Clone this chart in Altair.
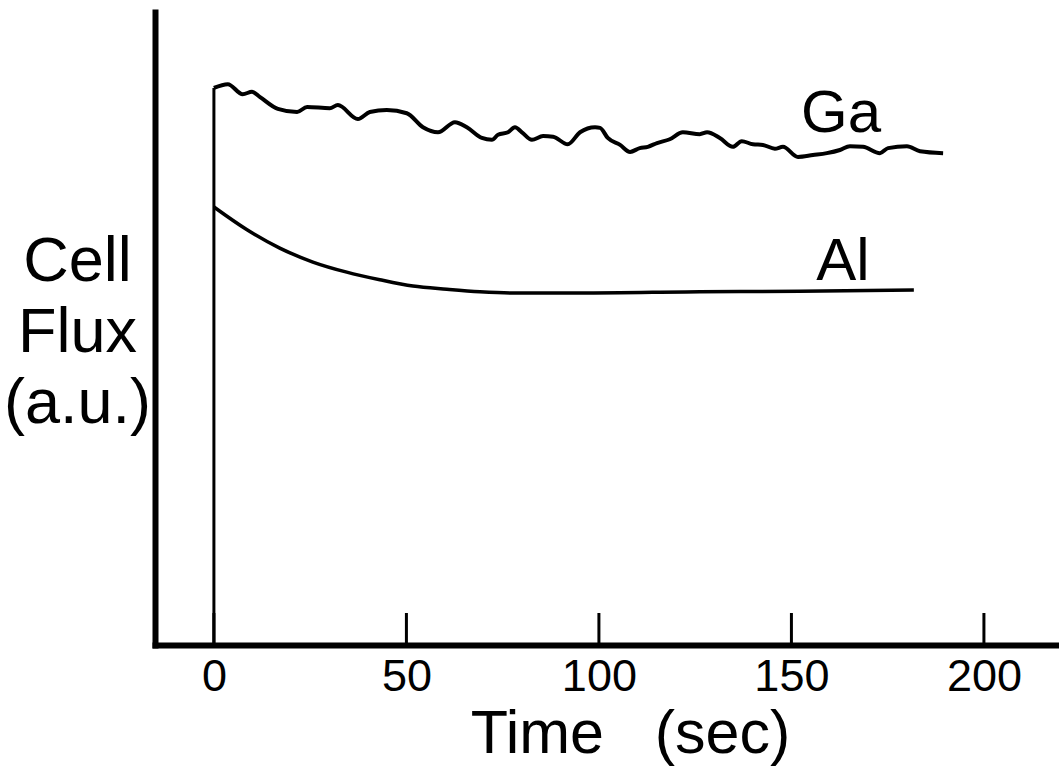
import altair as alt
import pandas as pd

# ---- data (time in s, flux in arbitrary units) ----
ga_time = [0, 3.6, 7.5, 9.9, 11.9, 16.6, 21.6, 24.2, 30.1, 32.2, 37.4, 40.5, 44.9,
           50.1, 54.3, 58.2, 62.6, 65.7, 69.6, 72.2, 73.8, 76.4, 78.2, 80.0, 82.6,
           85.5, 88.1, 91.9, 95.1, 99.0, 100.3, 102.3, 105.5, 108.1, 110.6, 112.7,
           115.1, 118.4, 121.8, 126.2, 128.1, 131.4, 134.8, 137.1, 140.0, 142.6,
           145.7, 147.8, 151.7, 155.6, 159.2, 162.6, 165.2, 168.6, 173.0, 175.1,
           180.0, 183.4, 189.4]
ga_flux = [88.0, 88.6, 87.0, 87.4, 86.6, 84.7, 84.2, 85.0, 84.8, 85.3, 83.1, 84.2, 84.5,
           84.0, 81.8, 81.0, 82.6, 81.8, 80.1, 79.8, 80.6, 81.0, 81.8, 81.0, 79.8,
           80.4, 80.3, 79.1, 81.0, 81.8, 81.7, 80.1, 79.0, 77.9, 78.5, 78.7,
           79.3, 79.9, 81.0, 80.7, 81.0, 80.1, 78.7, 79.6, 79.1, 79.0,
           78.4, 78.7, 77.1, 77.4, 77.7, 78.2, 78.8, 78.7, 77.7, 78.5,
           78.8, 78.0, 77.7]

al_time = [0, 8.6, 17.1, 25.7, 34.5, 43.1, 51.7, 60.5, 69.1, 77.7, 95.1, 126.2, 152.2, 181.8]
al_flux = [69.2, 65.6, 62.7, 60.5, 58.9, 57.7, 56.7, 56.2, 55.8, 55.6, 55.6, 55.8, 55.9, 56.1]

# shutter opening at t = 0: vertical trace from the baseline up to the Ga start
shutter_time = [0]
shutter_low = [0]
shutter_high = [88.0]

tick_times = [0, 50, 100, 150, 200]

label_text = ["Ga", "Al"]
label_time = [162.9, 163.4]
label_flux = [81.0, 57.7]

FONT = "Liberation Sans"

ga_df = pd.DataFrame({"t": ga_time, "f": ga_flux})
al_df = pd.DataFrame({"t": al_time, "f": al_flux})
sh_df = pd.DataFrame({"t": shutter_time, "lo": shutter_low, "hi": shutter_high})
tick_df = pd.DataFrame({"t": tick_times})
lab_df = pd.DataFrame({"label": label_text, "t": label_time, "f": label_flux})

xscale = alt.Scale(domain=[-15.3, 219.5], nice=False, zero=False)
yscale = alt.Scale(domain=[0, 100], nice=False, zero=False)

xaxis = alt.Axis(
    values=tick_times, format="d", ticks=False, grid=False,
    domain=True, domainWidth=6, domainColor="black", domainCap="square",
    labelFontSize=45, labelFont=FONT, labelColor="black", labelPadding=9,
    title="Time\u00a0\u00a0\u00a0(sec)", titleFontSize=61, titleFont=FONT,
    titleFontWeight="normal", titleColor="black",
    titleAlign="center", titleBaseline="alphabetic", titleX=475, titleY=107,
)
yaxis = alt.Axis(
    ticks=False, labels=False, grid=False,
    domain=True, domainWidth=6, domainColor="black", domainCap="square",
    title=["Cell", "Flux", "(a.u.)"], titleAngle=0, titleFontSize=63,
    titleFont=FONT, titleFontWeight="normal", titleColor="black",
    titleAlign="center", titleBaseline="alphabetic", titleX=-78, titleY=268,
    titleLineHeight=71,
)

xs = alt.X("t:Q", scale=xscale)

ga = alt.Chart(ga_df).mark_line(color="black", strokeWidth=4, interpolate="monotone").encode(
    x=alt.X("t:Q", scale=xscale, axis=xaxis),
    y=alt.Y("f:Q", scale=yscale, axis=yaxis))
al = alt.Chart(al_df).mark_line(color="black", strokeWidth=3.5, interpolate="monotone").encode(
    x=xs, y=alt.Y("f:Q", scale=yscale))
shutter = alt.Chart(sh_df).mark_rule(color="black", strokeWidth=3).encode(
    x=xs, y=alt.Y("lo:Q", scale=yscale), y2="hi:Q")
ticks = alt.Chart(tick_df).mark_rule(color="black", strokeWidth=3).encode(
    x=xs, y=alt.value(633), y2=alt.value(601))
labels = alt.Chart(lab_df).mark_text(
    font=FONT, fontSize=60, color="black", align="center", baseline="alphabetic"
).encode(x=xs, y=alt.Y("f:Q", scale=yscale), text="label:N")

chart = alt.layer(ga, al, shutter, ticks, labels).properties(
    width=904, height=633,
    autosize=alt.AutoSizeParams(type="none"),
    padding={"left": 155, "top": 12, "right": 0, "bottom": 123},
    background="white",
).configure_view(stroke=None)

chart.save("out.html", embed_options={"renderer": "svg", "actions": False})
